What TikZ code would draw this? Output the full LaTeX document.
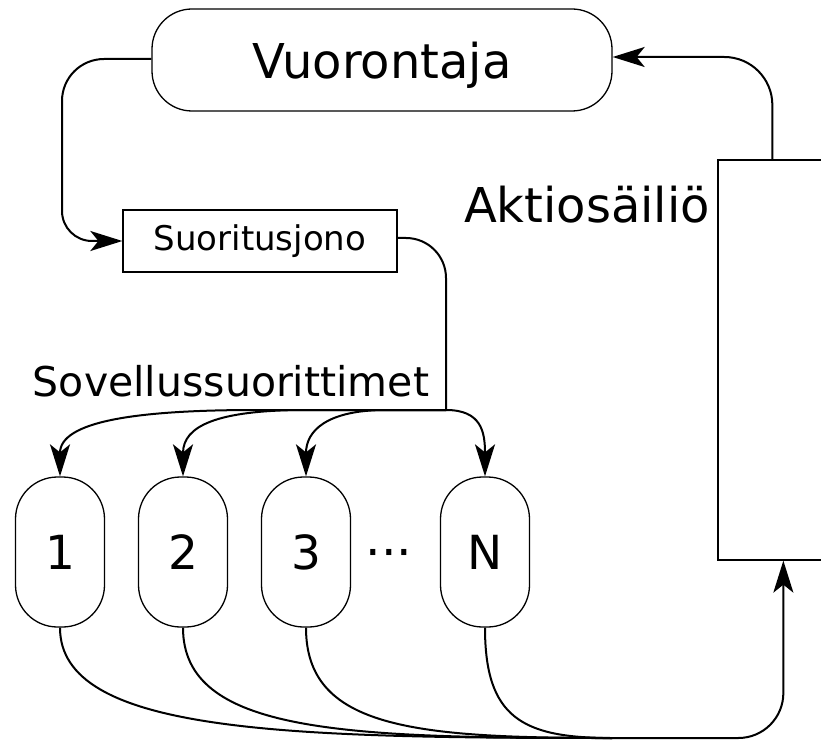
\documentclass[tikz,border=0pt]{standalone}
\usepackage{fontspec}
\setmainfont{DejaVu Sans}
\usetikzlibrary{arrows.meta}

\begin{document}
\begin{tikzpicture}[x=1pt, y=-1pt,
  outline/.style={draw, line width=1.3pt, inner sep=0pt},
  pill/.style={outline, minimum width=89pt, minimum height=150pt,
    rounded corners=42pt, font=\fontsize{47}{52}\selectfont},
  link/.style={line width=2pt, -{Stealth[length=32pt, width=20pt, inset=8pt]}},
  plain/.style={line width=2pt},
  caption/.style={inner sep=0pt}]

  \useasboundingbox (0,0) rectangle (821,743);

  % scheduler and run queue
  \node[outline, minimum width=460pt, minimum height=102pt, rounded corners=40pt,
        text depth=0pt, font=\fontsize{48}{54}\selectfont] (vu) at (382,60) {Vuorontaja};
  \node[outline, minimum width=274pt, minimum height=62pt,
        font=\fontsize{34}{40}\selectfont] (sj) at (260,241) {Suoritusjono};

  % action store
  \node[outline, minimum width=122pt, minimum height=400pt] (store) at (779,360) {};
  \node[caption, font=\fontsize{48}{54}\selectfont] (storelabel) at (587,205) {Aktiosäiliö};

  % executors
  \node[caption, anchor=base, font=\fontsize{41}{48}\selectfont] (execlabel) at (231,396) {Sovellussuorittimet};
  \node[pill] (e1) at (60,552) {1};
  \node[pill] (e2) at (183,552) {2};
  \node[pill] (e3) at (306,552) {3};
  \node[caption, font=\fontsize{49}{54}\selectfont] (dots) at (389,559) {···};
  \node[pill] (eN) at (485,552) {N};

  \coordinate (j) at (446,410);
  \coordinate (m) at (612,738);

  % store -> scheduler
  \draw[link, rounded corners=48pt] ([xshift=55pt]store.north west) |- ([yshift=3pt]vu.east);
  % scheduler -> run queue
  \draw[link, rounded corners=42pt] ([yshift=1pt]vu.west) -| (62,150)
        [rounded corners=30pt] |- (sj.west);
  % run queue -> fan-out point
  \draw[plain, rounded corners=40pt] ([yshift=3pt]sj.east) -| (j);

  % fan-out to executors
  \draw[link] (j) -- ++(-190,0) .. controls +(-120,0) and +(0,-55) .. (e1.north);
  \draw[link] (j) -- ++(-140,0) .. controls +(-90,0) and +(0,-50) .. (e2.north);
  \draw[link] (j) -- ++(-60,0) .. controls +(-60,0) and +(0,-45) .. (e3.north);
  \draw[link] (j) .. controls +(35,0) and +(0,-45) .. (eN.north);

  % executors -> store
  \draw[plain] (e1.south) .. controls +(0,105) and +(-330,0) .. (m);
  \draw[plain] (e2.south) .. controls +(0,105) and +(-270,0) .. (m);
  \draw[plain] (e3.south) .. controls +(0,100) and +(-200,0) .. (m);
  \draw[plain] (eN.south) .. controls +(0,90) and +(-90,0) .. (m);
  \draw[link, rounded corners=45pt] (m) -| ([xshift=66pt]store.south west);
\end{tikzpicture}
\end{document}
